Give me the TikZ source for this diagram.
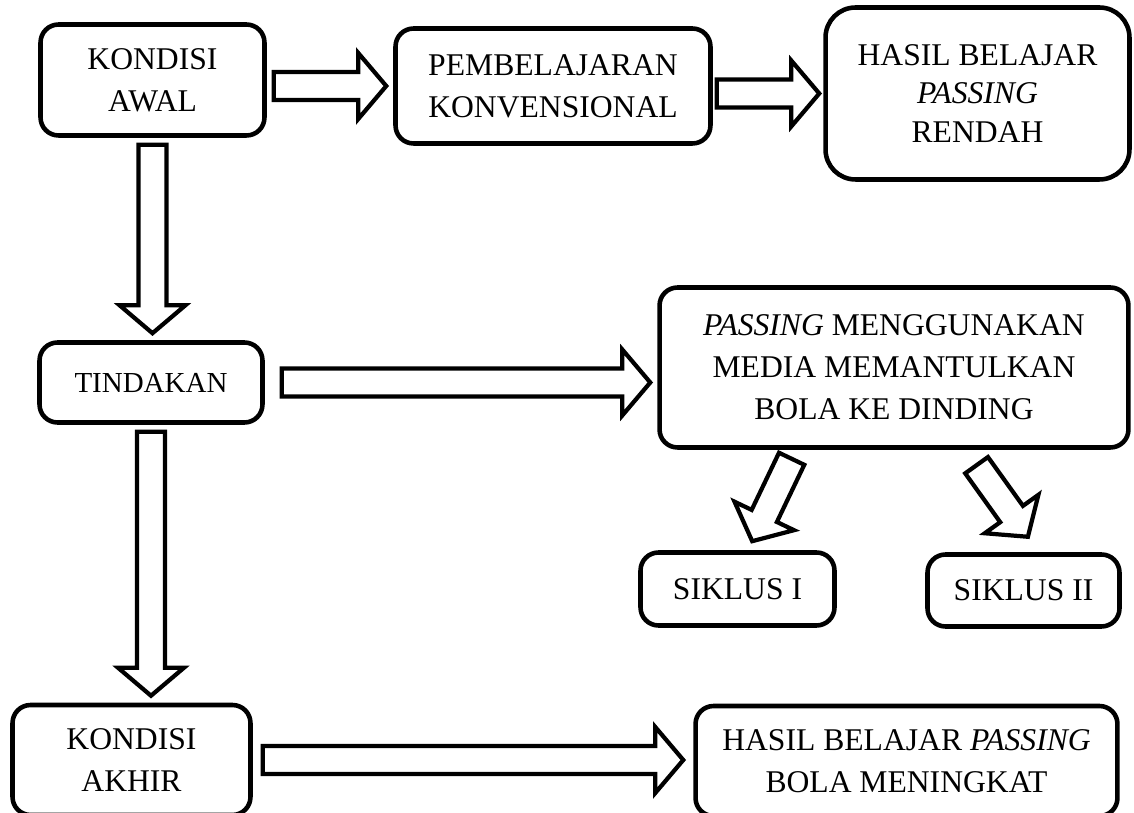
\documentclass[tikz,border=0pt]{standalone}
\usepackage{fontspec}
\setmainfont{Liberation Serif}
\usetikzlibrary{calc}

\newcommand{\fatgap}{0.14cm}
\newcommand{\fatw}{0.28cm}
\newcommand{\fathw}{0.66cm}
\newcommand{\fathl}{0.56cm}

\tikzset{
  box/.style={draw, line width=2.6pt, rounded corners=0.36cm, align=center,
    inner sep=0pt, font=\fontsize{18}{24}\selectfont},
  arrowgap/.store in=\fatgap,
  fat/.style={line width=2.4pt, to path={
    ($(\tikztostart)!\fatgap!(\tikztotarget)!\fatw!90:(\tikztotarget)$)
    -- ($(\tikztotarget)!\fatgap+\fathl!(\tikztostart)!\fatw!90:(\tikztotarget)$)
    -- ($(\tikztotarget)!\fatgap+\fathl!(\tikztostart)!\fathw!90:(\tikztotarget)$)
    -- ($(\tikztotarget)!\fatgap!(\tikztostart)$)
    -- ($(\tikztotarget)!\fatgap+\fathl!(\tikztostart)!\fathw!-90:(\tikztotarget)$)
    -- ($(\tikztotarget)!\fatgap+\fathl!(\tikztostart)!\fatw!-90:(\tikztotarget)$)
    -- ($(\tikztostart)!\fatgap!(\tikztotarget)!\fatw!-90:(\tikztotarget)$)
    -- cycle}}
}

\begin{document}
\begin{tikzpicture}[x=0.02cm, y=-0.02cm]
  \useasboundingbox (0,0) rectangle (1134,813);

  % top row
  \node[box, minimum width=4.48cm, minimum height=2.22cm] (awal) at (152.5,80) {KONDISI\\AWAL};
  \node[box, minimum width=6.3cm, minimum height=2.3cm] (konv) at (553,86) {PEMBELAJARAN\\KONVENSIONAL};
  \node[box, rounded corners=0.6cm, minimum width=6.08cm, minimum height=3.44cm,
    font=\fontsize{18}{22}\selectfont] (rendah) at (977.5,93.5) {HASIL BELAJAR\\\textit{PASSING}\\RENDAH};

  % middle
  \node[box, minimum width=4.46cm, minimum height=1.6cm, font=\fontsize{16.5}{20}\selectfont] (tindakan) at (151,382.5) {TINDAKAN};
  \node[box, minimum width=9.38cm, minimum height=3.2cm] (passing) at (894,367.5) {\textit{PASSING} MENGGUNAKAN\\MEDIA MEMANTULKAN\\BOLA KE DINDING};
  \node[box, minimum width=3.88cm, minimum height=1.46cm] (siklus1) at (737.5,589) {SIKLUS I};
  \node[box, minimum width=3.84cm, minimum height=1.44cm] (siklus2) at (1023.5,590.5) {SIKLUS II};

  % bottom row
  \node[box, minimum width=4.76cm, minimum height=2.2cm] (akhir) at (131.5,760) {KONDISI\\AKHIR};
  \node[box, minimum width=8.44cm, minimum height=2.2cm] (meningkat) at (906.5,761) {HASIL BELAJAR \textit{PASSING}\\BOLA MENINGKAT};

  % block arrows
  \draw[fat] (konv.west -| awal.east) to (konv.west);
  \draw[fat, arrowgap=0.08cm] (rendah.west -| konv.east) to (rendah.west);
  \draw[fat] (awal.south) to (awal.south |- tindakan.north);
  \draw[fat] ([xshift=0.2cm]tindakan.east) to (tindakan.east -| passing.west);
  \draw[fat, arrowgap=0.2cm] (passing.220) to (siklus1.75);
  \draw[fat, arrowgap=0.38cm] (passing.311) to (siklus2.68);
  \draw[fat] (tindakan.south) to (tindakan.south |- akhir.north);
  \draw[fat, arrowgap=0.2cm] (akhir.east) to (akhir.east -| meningkat.west);
\end{tikzpicture}
\end{document}
